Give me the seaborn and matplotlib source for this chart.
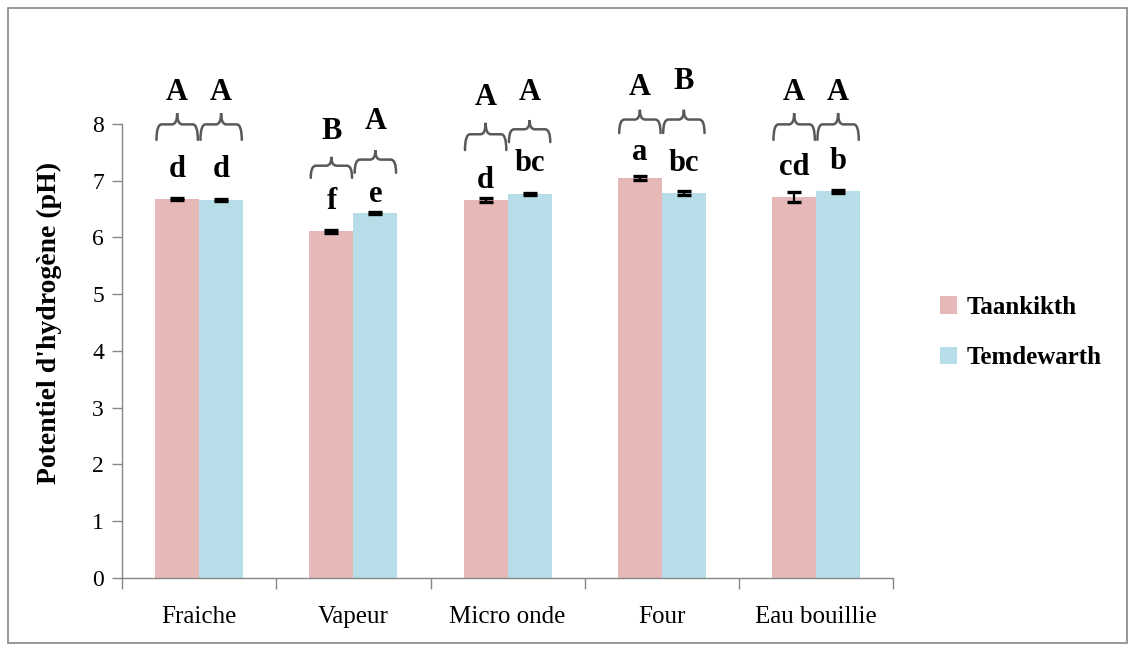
import numpy as np
import pandas as pd
import seaborn as sns
import matplotlib.pyplot as plt
from matplotlib.path import Path
from matplotlib.patches import PathPatch, Rectangle
from matplotlib.container import BarContainer

# --- data ---------------------------------------------------------------
treatments = ["Fraiche", "Vapeur", "Micro onde", "Four", "Eau bouillie"]
varieties = ["Taankikth", "Temdewarth"]
ph_taankikth = [6.68, 6.11, 6.66, 7.05, 6.71]
ph_temdewarth = [6.66, 6.43, 6.76, 6.78, 6.81]
err_taankikth = [0.02, 0.03, 0.04, 0.04, 0.09]
err_temdewarth = [0.02, 0.02, 0.02, 0.03, 0.02]

# significance letters (lower: between all bars, upper: between varieties)
lower_taankikth = ["d", "f", "d", "a", "cd"]
lower_temdewarth = ["d", "e", "bc", "bc", "b"]
upper_taankikth = ["A", "B", "A", "A", "A"]
upper_temdewarth = ["A", "A", "A", "B", "A"]

# vertical placement of the annotations (in pH units)
lower_y = [[7.19, 6.63, 7.01, 7.49, 7.24], [7.19, 6.75, 7.31, 7.31, 7.33]]
brace_bottom = [[7.72, 7.05, 7.54, 7.84, 7.72], [7.72, 7.14, 7.68, 7.84, 7.72]]
brace_top = [[8.19, 7.42, 8.02, 8.25, 8.19], [8.19, 7.54, 8.07, 8.25, 8.19]]
upper_y = [[8.56, 7.86, 8.46, 8.65, 8.55], [8.56, 8.04, 8.55, 8.74, 8.55]]

df = pd.DataFrame({
    "Traitement": treatments * 2,
    "Variété": [varieties[0]] * 5 + [varieties[1]] * 5,
    "pH": ph_taankikth + ph_temdewarth,
})
errors = [err_taankikth, err_temdewarth]
lowers = [lower_taankikth, lower_temdewarth]
uppers = [upper_taankikth, upper_temdewarth]

# --- figure -------------------------------------------------------------
sns.set_theme(style="white")
plt.rcParams["font.family"] = ["Liberation Serif", "DejaVu Serif"]
plt.rcParams["text.color"] = "black"
plt.rcParams["axes.labelcolor"] = "black"
plt.rcParams["xtick.labelcolor"] = "black"
plt.rcParams["ytick.labelcolor"] = "black"

fig = plt.figure(figsize=(11.35, 6.49), dpi=100)
ax = fig.add_axes([0.1075, 0.1094, 0.6795, 0.6996])

palette = {"Taankikth": "#E6B9B8", "Temdewarth": "#B7DEE8"}
sns.barplot(data=df, x="Traitement", y="pH", hue="Variété", order=treatments,
            hue_order=varieties, palette=palette, width=0.57, errorbar=None,
            saturation=1, linewidth=0, ax=ax, legend=True)

ax.set_ylim(0, 8)
ax.set_xlim(-0.5, 4.5)
ax.set_yticks(np.arange(0, 9, 1))
ax.set_yticklabels([str(v) for v in range(9)], fontsize=17)
ax.set_xlabel("")
ax.set_ylabel("Potentiel d'hydrogène (pH)", fontsize=20, fontweight="bold")
ax.yaxis.set_label_coords(-0.078, 0.562)

for s in ["top", "right"]:
    ax.spines[s].set_visible(False)
for s in ["left", "bottom"]:
    ax.spines[s].set_color("#868686")
    ax.spines[s].set_linewidth(1.0)

ax.tick_params(axis="y", direction="out", length=7, width=1, color="#868686",
               pad=6, left=True)
ax.set_xticks(range(len(treatments)))
ax.set_xticklabels(treatments, fontsize=18)
ax.tick_params(axis="x", which="major", length=0, pad=20)
ax.set_xticks(np.arange(-0.5, 5, 1), minor=True)
ax.tick_params(axis="x", which="minor", direction="out", length=8, width=1,
               color="#868686", bottom=True)


def draw_brace(ax, xc, half_w, yb, yt, color="#595959"):
    ym = yt - 0.42 * (yt - yb)
    r = 0.25 * half_w
    verts = [
        (xc - half_w, yb), (xc - half_w, ym), (xc - half_w + r, ym),
        (xc - r, ym), (xc, ym), (xc, yt),
        (xc, ym), (xc + r, ym),
        (xc + half_w - r, ym), (xc + half_w, ym), (xc + half_w, yb),
    ]
    codes = [
        Path.MOVETO, Path.CURVE3, Path.CURVE3,
        Path.LINETO, Path.CURVE3, Path.CURVE3,
        Path.CURVE3, Path.CURVE3,
        Path.LINETO, Path.CURVE3, Path.CURVE3,
    ]
    ax.add_patch(PathPatch(Path(verts, codes), facecolor="none", edgecolor=color,
                           lw=1.8, clip_on=False, capstyle="round"))


bar_groups = [c for c in ax.containers if isinstance(c, BarContainer)]
for j, cont in enumerate(bar_groups):
    for i, bar in enumerate(cont.patches):
        xc = bar.get_x() + bar.get_width() / 2
        h = bar.get_height()
        ax.errorbar(xc, h, yerr=errors[j][i], color="black", elinewidth=1.6,
                    capsize=5, capthick=2.4, fmt="none", zorder=5)
        ax.text(xc, lower_y[j][i], lowers[j][i], ha="center", va="center",
                fontsize=22, fontweight="bold", clip_on=False)
        draw_brace(ax, xc, bar.get_width() * 0.47, brace_bottom[j][i], brace_top[j][i])
        ax.text(xc, upper_y[j][i], uppers[j][i], ha="center", va="center",
                fontsize=22, fontweight="bold", clip_on=False)

# legend on the right
handles, labels = ax.get_legend_handles_labels()
ax.legend_.remove()
fig.legend(handles, labels, loc="center left", bbox_to_anchor=(0.808, 0.488),
           frameon=False, prop={"size": 18, "weight": "bold"},
           handlelength=0.7, handleheight=0.7, handletextpad=0.4,
           labelspacing=1.1)

# outer chart frame
fig.patches.append(Rectangle((0.007, 0.010), 0.986, 0.978, transform=fig.transFigure,
                             fill=False, edgecolor="#868686", lw=1.2))

fig.savefig("out.png", dpi=100)
